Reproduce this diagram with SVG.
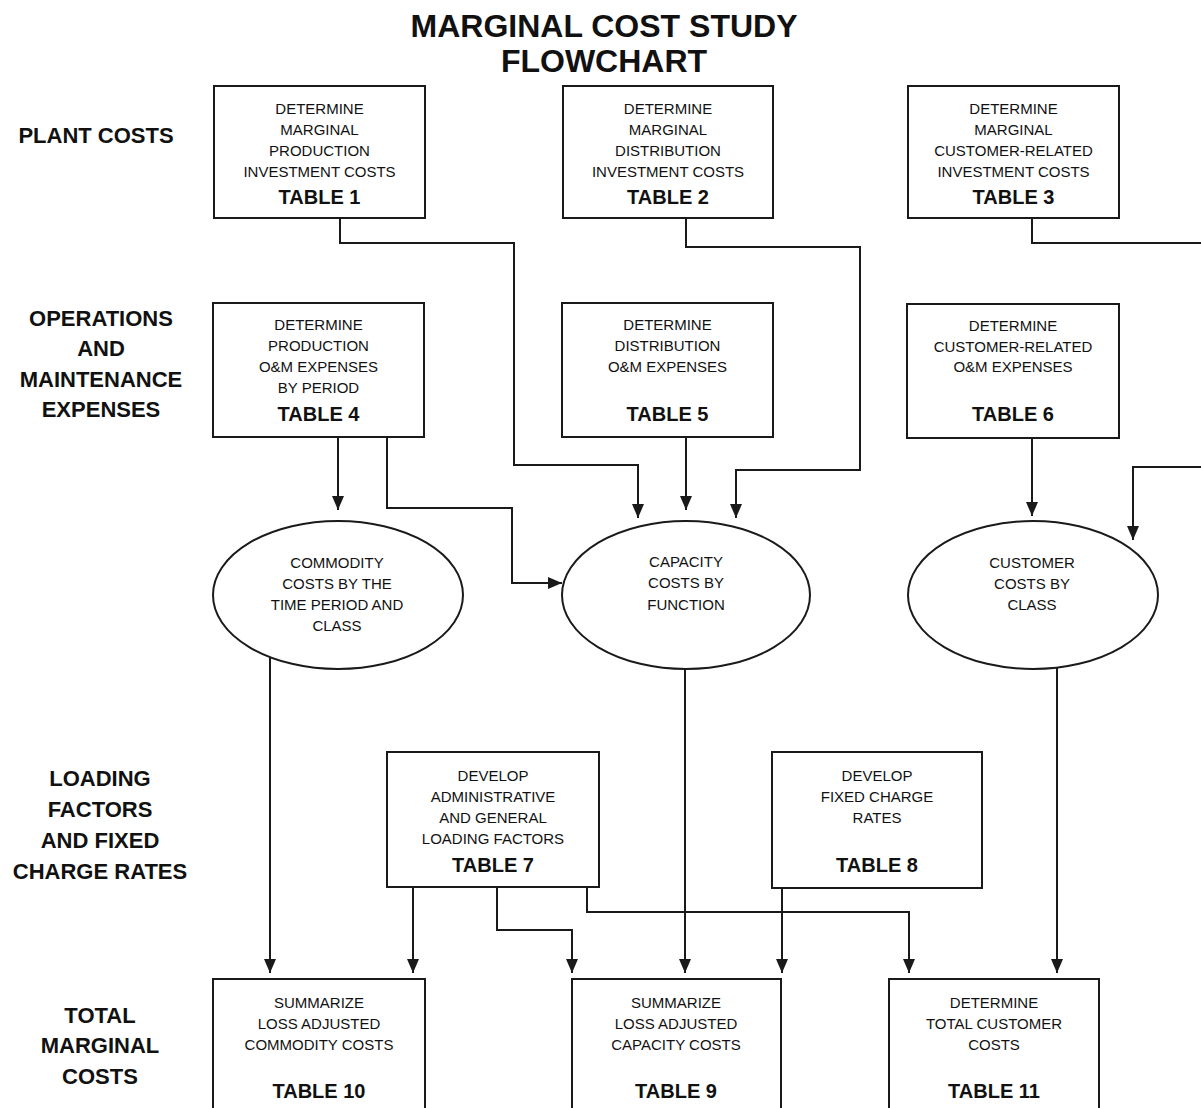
<svg xmlns="http://www.w3.org/2000/svg" width="1201" height="1108" viewBox="0 0 1201 1108">
<style>
.bg{fill:#fff}
.box{fill:#fff;stroke:#1a1a1a;stroke-width:2}
.ell{fill:#fff;stroke:#1a1a1a;stroke-width:2}
.t{font-family:"Liberation Sans",Arial,sans-serif;font-size:15px;fill:#111;text-anchor:middle}
.tb{font-family:"Liberation Sans",Arial,sans-serif;font-size:20px;font-weight:bold;fill:#111;text-anchor:middle}
.row{font-family:"Liberation Sans",Arial,sans-serif;font-size:22px;font-weight:bold;fill:#111;text-anchor:middle}
.title{font-family:"Liberation Sans",Arial,sans-serif;font-size:32px;font-weight:bold;fill:#111;text-anchor:middle}
.c{fill:none;stroke:#1a1a1a;stroke-width:2}
.a{marker-end:url(#arr)}
</style>
<defs>
<marker id="arr" viewBox="0 0 14 12" refX="14" refY="6" markerWidth="14" markerHeight="12" markerUnits="userSpaceOnUse" orient="auto">
<path d="M0,0 L14,6 L0,12 z" fill="#1a1a1a"/>
</marker>
</defs>
<rect class="bg" x="0" y="0" width="1201" height="1108"/>

<g id="title">
<text class="title" x="604" y="37">MARGINAL COST STUDY</text>
<text class="title" x="604" y="72">FLOWCHART</text>
</g>

<g id="row-labels">
<text class="row" x="96" y="143">PLANT COSTS</text>
<text class="row" x="101" y="326">OPERATIONS</text>
<text class="row" x="101" y="356">AND</text>
<text class="row" x="101" y="387">MAINTENANCE</text>
<text class="row" x="101" y="417">EXPENSES</text>
<text class="row" x="100" y="786">LOADING</text>
<text class="row" x="100" y="817">FACTORS</text>
<text class="row" x="100" y="848">AND FIXED</text>
<text class="row" x="100" y="879">CHARGE RATES</text>
<text class="row" x="100" y="1023">TOTAL</text>
<text class="row" x="100" y="1053">MARGINAL</text>
<text class="row" x="100" y="1084">COSTS</text>
</g>

<g id="connectors">
<path class="c a" d="M340,218 V243 H514 V465 H638 V518"/>
<path class="c a" d="M686,218 V247 H860 V470 H736 V518"/>
<path class="c" d="M1032,218 V243 H1201"/>
<path class="c a" d="M1201,467 H1133 V540"/>
<path class="c a" d="M686,437 V510"/>
<path class="c a" d="M338,437 V510"/>
<path class="c a" d="M387,437 V508 H512 V583 H562"/>
<path class="c a" d="M1032,438 V516"/>
<path class="c a" d="M270,658 V973"/>
<path class="c a" d="M685,669 V973"/>
<path class="c a" d="M1057,666 V973"/>
<path class="c a" d="M413,887 V973"/>
<path class="c a" d="M497,887 V930 H572 V973"/>
<path class="c a" d="M587,887 V912 H909 V973"/>
<path class="c a" d="M782,888 V973"/>
</g>

<g id="table1">
<rect class="box" x="214" y="86" width="211" height="132"/>
<text class="t" x="319.5" y="114">DETERMINE</text>
<text class="t" x="319.5" y="135">MARGINAL</text>
<text class="t" x="319.5" y="156">PRODUCTION</text>
<text class="t" x="319.5" y="177">INVESTMENT COSTS</text>
<text class="tb" x="319.5" y="204">TABLE 1</text>
</g>
<g id="table2">
<rect class="box" x="563" y="86" width="210" height="132"/>
<text class="t" x="668" y="114">DETERMINE</text>
<text class="t" x="668" y="135">MARGINAL</text>
<text class="t" x="668" y="156">DISTRIBUTION</text>
<text class="t" x="668" y="177">INVESTMENT COSTS</text>
<text class="tb" x="668" y="204">TABLE 2</text>
</g>
<g id="table3">
<rect class="box" x="908" y="86" width="211" height="132"/>
<text class="t" x="1013.5" y="114">DETERMINE</text>
<text class="t" x="1013.5" y="135">MARGINAL</text>
<text class="t" x="1013.5" y="156">CUSTOMER-RELATED</text>
<text class="t" x="1013.5" y="177">INVESTMENT COSTS</text>
<text class="tb" x="1013.5" y="204">TABLE 3</text>
</g>

<g id="table4">
<rect class="box" x="213" y="303" width="211" height="134"/>
<text class="t" x="318.5" y="330">DETERMINE</text>
<text class="t" x="318.5" y="351">PRODUCTION</text>
<text class="t" x="318.5" y="372">O&amp;M EXPENSES</text>
<text class="t" x="318.5" y="393">BY PERIOD</text>
<text class="tb" x="318.5" y="421">TABLE 4</text>
</g>
<g id="table5">
<rect class="box" x="562" y="303" width="211" height="134"/>
<text class="t" x="667.5" y="330">DETERMINE</text>
<text class="t" x="667.5" y="351">DISTRIBUTION</text>
<text class="t" x="667.5" y="372">O&amp;M EXPENSES</text>
<text class="tb" x="667.5" y="421">TABLE 5</text>
</g>
<g id="table6">
<rect class="box" x="907" y="304" width="212" height="134"/>
<text class="t" x="1013" y="331">DETERMINE</text>
<text class="t" x="1013" y="352">CUSTOMER-RELATED</text>
<text class="t" x="1013" y="372">O&amp;M EXPENSES</text>
<text class="tb" x="1013" y="421">TABLE 6</text>
</g>

<g id="commodity-costs">
<ellipse class="ell" cx="338" cy="595" rx="125" ry="74"/>
<text class="t" x="337" y="568">COMMODITY</text>
<text class="t" x="337" y="589">COSTS BY THE</text>
<text class="t" x="337" y="610">TIME PERIOD AND</text>
<text class="t" x="337" y="631">CLASS</text>
</g>
<g id="capacity-costs">
<ellipse class="ell" cx="686" cy="595" rx="124" ry="74"/>
<text class="t" x="686" y="567">CAPACITY</text>
<text class="t" x="686" y="588">COSTS BY</text>
<text class="t" x="686" y="610">FUNCTION</text>
</g>
<g id="customer-costs">
<ellipse class="ell" cx="1033" cy="595" rx="125" ry="74"/>
<text class="t" x="1032" y="568">CUSTOMER</text>
<text class="t" x="1032" y="589">COSTS BY</text>
<text class="t" x="1032" y="610">CLASS</text>
</g>

<g id="table7">
<rect class="box" x="387" y="752" width="212" height="135"/>
<text class="t" x="493" y="781">DEVELOP</text>
<text class="t" x="493" y="802">ADMINISTRATIVE</text>
<text class="t" x="493" y="823">AND GENERAL</text>
<text class="t" x="493" y="844">LOADING FACTORS</text>
<text class="tb" x="493" y="872">TABLE 7</text>
</g>
<g id="table8">
<rect class="box" x="772" y="752" width="210" height="136"/>
<text class="t" x="877" y="781">DEVELOP</text>
<text class="t" x="877" y="802">FIXED CHARGE</text>
<text class="t" x="877" y="823">RATES</text>
<text class="tb" x="877" y="872">TABLE 8</text>
</g>

<g id="table10">
<rect class="box" x="213" y="979" width="212" height="150"/>
<text class="t" x="319" y="1008">SUMMARIZE</text>
<text class="t" x="319" y="1029">LOSS ADJUSTED</text>
<text class="t" x="319" y="1050">COMMODITY COSTS</text>
<text class="tb" x="319" y="1098">TABLE 10</text>
</g>
<g id="table9">
<rect class="box" x="572" y="979" width="209" height="150"/>
<text class="t" x="676" y="1008">SUMMARIZE</text>
<text class="t" x="676" y="1029">LOSS ADJUSTED</text>
<text class="t" x="676" y="1050">CAPACITY COSTS</text>
<text class="tb" x="676" y="1098">TABLE 9</text>
</g>
<g id="table11">
<rect class="box" x="889" y="979" width="210" height="150"/>
<text class="t" x="994" y="1008">DETERMINE</text>
<text class="t" x="994" y="1029">TOTAL CUSTOMER</text>
<text class="t" x="994" y="1050">COSTS</text>
<text class="tb" x="994" y="1098">TABLE 11</text>
</g>
</svg>
